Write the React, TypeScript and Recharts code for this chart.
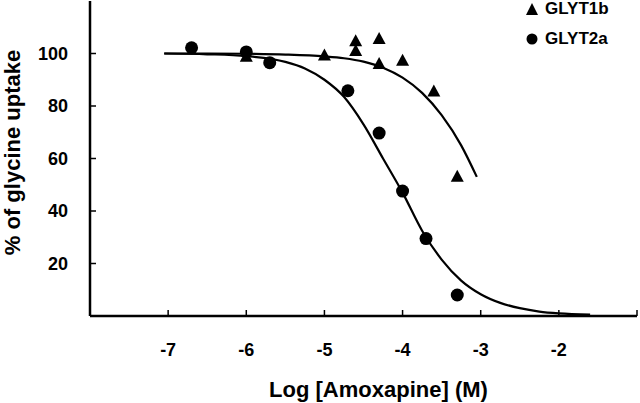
import { ComposedChart, Line, Scatter, XAxis, YAxis, Label } from "recharts"

const xTicks = [-7, -6, -5, -4, -3, -2, -1]
const yTicks = [20, 40, 60, 80, 100]

// measured points
const glyt1bLogConc = [-6, -5, -4.6, -4.6, -4.3, -4.3, -4, -3.6, -3.3]
const glyt1bUptake = [99, 99.4, 104.9, 101.1, 105.7, 96.2, 97.4, 85.7, 53.2]

const glyt2aLogConc = [-6.7, -6, -5.7, -4.7, -4.3, -4, -3.7, -3.3]
const glyt2aUptake = [102.2, 100.6, 96.5, 85.8, 69.7, 47.6, 29.5, 8]

// fitted curves
const glyt1bFitX = [-7.05, -6.5, -6, -5.5, -5, -4.75, -4.5, -4.25, -4, -3.75, -3.5, -3.25, -3.05]
const glyt1bFitY = [100, 100, 99.9, 99.6, 98.9, 98.2, 96.9, 94.6, 90.8, 85, 76.5, 65, 53]

const glyt2aFitX = [-7.05, -6.5, -6, -5.5, -5.25, -5, -4.75, -4.5, -4.25, -4, -3.75, -3.5, -3.25, -3, -2.75, -2.5, -2.25, -2, -1.6]
const glyt2aFitY = [100, 99.7, 99, 96.8, 94.3, 90, 83.5, 73, 60, 47, 32.5, 21.5, 13.5, 8.3, 5, 3, 1.7, 1, 0.5]

const zip = (xs: number[], ys: number[]) => xs.map((x, i) => ({ x, y: ys[i] }))

const font = "'Liberation Sans', Arial, sans-serif"

const Triangle = (props: any) => {
  const { cx, cy } = props
  return <polygon points={`${cx},${cy - 6.5} ${cx - 6.5},${cy + 5.5} ${cx + 6.5},${cy + 5.5}`} fill="#000" />
}

const Dot = (props: any) => <circle cx={props.cx} cy={props.cy} r={6.5} fill="#000" />

export default function App() {
  return (
    <div style={{ position: "absolute", left: 0, top: 0, width: 640, height: 403, background: "#fff", fontFamily: font }}>
      <ComposedChart width={640} height={403} margin={{ top: 1, right: 3, left: 0, bottom: 0 }}>
        <XAxis
          dataKey="x"
          type="number"
          domain={[-8, -1]}
          ticks={xTicks}
          allowDataOverflow
          height={87}
          tickFormatter={(v) => (v === -1 ? "" : String(v))}
          axisLine={{ stroke: "#000", strokeWidth: 2.5 }}
          tickLine={{ stroke: "#000", strokeWidth: 1.5 }}
          tickSize={-6}
          tickMargin={33}
          tick={{ fill: "#000", fontSize: 18, fontWeight: "bold", fontFamily: font }}
        >
          <Label
            content={({ viewBox }: any) => (
              <text
                x={viewBox.x + viewBox.width / 2 + 15}
                y={viewBox.y + viewBox.height - 6}
                textAnchor="middle"
                fontSize={22}
                fontWeight="bold"
                fontFamily={font}
                fill="#000"
              >
                Log [Amoxapine] (M)
              </text>
            )}
          />
        </XAxis>
        <YAxis
          type="number"
          domain={[0, 120]}
          ticks={yTicks}
          width={90}
          axisLine={{ stroke: "#000", strokeWidth: 2.5 }}
          tickLine={{ stroke: "#000", strokeWidth: 1.5 }}
          tickSize={-6}
          tickMargin={28}
          tick={{ fill: "#000", fontSize: 18, fontWeight: "bold", fontFamily: font }}
        >
          <Label
            content={({ viewBox }: any) => {
              const cx = 20
              const cy = viewBox.y + viewBox.height / 2 - 6
              return (
                <text
                  x={cx}
                  y={cy}
                  transform={`rotate(-90, ${cx}, ${cy})`}
                  textAnchor="middle"
                  fontSize={22}
                  fontWeight="bold"
                  fontFamily={font}
                  fill="#000"
                >
                  % of glycine uptake
                </text>
              )
            }}
          />
        </YAxis>
        <Line
          data={zip(glyt1bFitX, glyt1bFitY)}
          dataKey="y"
          type="monotone"
          stroke="#000"
          strokeWidth={2.2}
          dot={false}
          activeDot={false}
          isAnimationActive={false}
        />
        <Line
          data={zip(glyt2aFitX, glyt2aFitY)}
          dataKey="y"
          type="monotone"
          stroke="#000"
          strokeWidth={2.2}
          dot={false}
          activeDot={false}
          isAnimationActive={false}
        />
        <Scatter data={zip(glyt1bLogConc, glyt1bUptake)} dataKey="y" shape={Triangle} isAnimationActive={false} />
        <Scatter data={zip(glyt2aLogConc, glyt2aUptake)} dataKey="y" shape={Dot} isAnimationActive={false} />
      </ComposedChart>
      <div style={{ position: "absolute", left: 524, top: 0, fontSize: 17, fontWeight: "bold", color: "#000", lineHeight: "17px" }}>
        <div style={{ display: "flex", alignItems: "center", height: 17 }}>
          <svg width={16} height={14} style={{ marginRight: 5 }}>
            <polygon points="8,1 2,13 14,13" fill="#000" />
          </svg>
          GLYT1b
        </div>
        <div style={{ display: "flex", alignItems: "center", height: 17, marginTop: 13 }}>
          <svg width={16} height={14} style={{ marginRight: 5 }}>
            <circle cx={8} cy={7} r={5.5} fill="#000" />
          </svg>
          GLYT2a
        </div>
      </div>
    </div>
  )
}
